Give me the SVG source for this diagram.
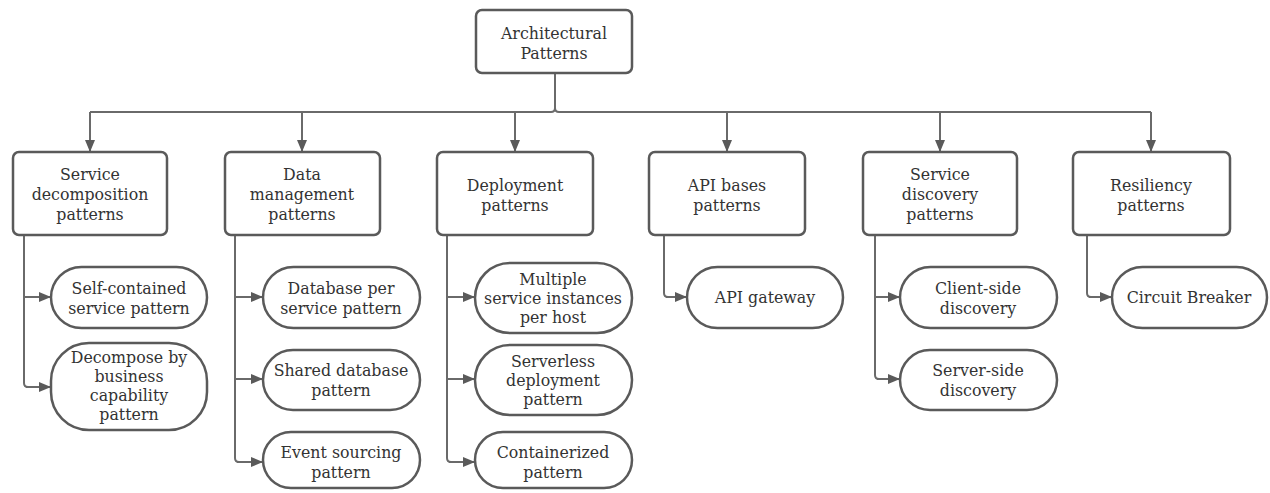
<svg xmlns="http://www.w3.org/2000/svg" width="1270" height="493" viewBox="0 0 1270 493">
<defs>
<marker id="ah" markerUnits="userSpaceOnUse" markerWidth="12" markerHeight="10" refX="11" refY="5" orient="auto">
<path d="M0,0 L12,5 L0,10 z" fill="#5a5a5a"/>
</marker>
<style>
.box{fill:#fff;stroke:#5a5a5a;stroke-width:2.5}
.st{fill:#fff;stroke:#5a5a5a;stroke-width:2.5}
.c{fill:none;stroke:#6a6a6a;stroke-width:2}
.a{fill:none;stroke:#6a6a6a;stroke-width:2;marker-end:url(#ah)}
text{font-family:"DejaVu Serif","Liberation Serif",serif;font-size:15.8px;fill:#333;text-anchor:middle}
</style>
</defs>
<rect width="1270" height="493" fill="#fff"/>
<g id="connectors">
<path class="c" d="M555,73 V108 Q555,112 551,112 H90 M555,108 Q555,112 559,112 H1151"/>
<path class="a" d="M90,112 V151"/>
<path class="a" d="M302,112 V151"/>
<path class="a" d="M515,112 V151"/>
<path class="a" d="M727,112 V151"/>
<path class="a" d="M940,112 V151"/>
<path class="a" d="M1151,112 V151"/>
<path class="c" d="M24,235 V383 Q24,387 28,387"/>
<path class="a" d="M24,297 H50"/>
<path class="a" d="M26,387 H50"/>
<path class="c" d="M235,235 V458 Q235,462 239,462"/>
<path class="a" d="M235,297 H262"/>
<path class="a" d="M235,379 H262"/>
<path class="a" d="M237,462 H262"/>
<path class="c" d="M447,235 V458 Q447,462 451,462"/>
<path class="a" d="M447,297 H474"/>
<path class="a" d="M447,379 H474"/>
<path class="a" d="M449,462 H474"/>
<path class="c" d="M664,235 V293 Q664,297 668,297"/>
<path class="a" d="M666,297 H686"/>
<path class="c" d="M875,235 V375 Q875,379 879,379"/>
<path class="a" d="M875,297 H899"/>
<path class="a" d="M877,379 H899"/>
<path class="c" d="M1087,235 V293 Q1087,297 1091,297"/>
<path class="a" d="M1089,297 H1111"/>
</g>
<g id="root"><rect class="box" x="476" y="10" width="156" height="63" rx="6"/><text x="554" y="39">Architectural</text><text x="554" y="59">Patterns</text></g>
<g id="service-decomposition"><rect class="box" x="13" y="152" width="154" height="83" rx="6"/><text x="90" y="180">Service</text><text x="90" y="200">decomposition</text><text x="90" y="220">patterns</text></g>
<g id="data-management"><rect class="box" x="225" y="152" width="155" height="83" rx="6"/><text x="302" y="180">Data</text><text x="302" y="200">management</text><text x="302" y="220">patterns</text></g>
<g id="deployment"><rect class="box" x="437" y="152" width="156" height="83" rx="6"/><text x="515" y="191">Deployment</text><text x="515" y="211">patterns</text></g>
<g id="api-bases"><rect class="box" x="649" y="152" width="156" height="83" rx="6"/><text x="727" y="191">API bases</text><text x="727" y="211">patterns</text></g>
<g id="service-discovery"><rect class="box" x="863" y="152" width="154" height="83" rx="6"/><text x="940" y="180">Service</text><text x="940" y="200">discovery</text><text x="940" y="220">patterns</text></g>
<g id="resiliency"><rect class="box" x="1073" y="152" width="157" height="83" rx="6"/><text x="1151" y="191">Resiliency</text><text x="1151" y="211">patterns</text></g>
<g id="self-contained"><rect class="st" x="51" y="267" width="156" height="61" rx="30.5"/><text x="129" y="294">Self-contained</text><text x="129" y="314">service pattern</text></g>
<g id="decompose-business"><rect class="st" x="51" y="343" width="156" height="87" rx="38"/><text x="129" y="363">Decompose by</text><text x="129" y="382">business</text><text x="129" y="401">capability</text><text x="129" y="420">pattern</text></g>
<g id="db-per-service"><rect class="st" x="263" y="267" width="157" height="61" rx="30.5"/><text x="341" y="294">Database per</text><text x="341" y="314">service pattern</text></g>
<g id="shared-db"><rect class="st" x="263" y="350" width="157" height="60" rx="30"/><text x="341" y="376">Shared database</text><text x="341" y="396">pattern</text></g>
<g id="event-sourcing"><rect class="st" x="263" y="432" width="157" height="56" rx="28"/><text x="341" y="458">Event sourcing</text><text x="341" y="478">pattern</text></g>
<g id="multiple-instances"><rect class="st" x="475" y="263" width="157" height="70" rx="35"/><text x="553" y="285">Multiple</text><text x="553" y="304">service instances</text><text x="553" y="323">per host</text></g>
<g id="serverless"><rect class="st" x="475" y="345" width="157" height="70" rx="35"/><text x="553" y="367">Serverless</text><text x="553" y="386">deployment</text><text x="553" y="405">pattern</text></g>
<g id="containerized"><rect class="st" x="475" y="432" width="157" height="56" rx="28"/><text x="553" y="458">Containerized</text><text x="553" y="478">pattern</text></g>
<g id="api-gateway"><rect class="st" x="687" y="267" width="156" height="61" rx="30.5"/><text x="765" y="303">API gateway</text></g>
<g id="client-side"><rect class="st" x="900" y="267" width="157" height="61" rx="30.5"/><text x="978" y="294">Client-side</text><text x="978" y="314">discovery</text></g>
<g id="server-side"><rect class="st" x="900" y="350" width="157" height="60" rx="30"/><text x="978" y="376">Server-side</text><text x="978" y="396">discovery</text></g>
<g id="circuit-breaker"><rect class="st" x="1112" y="267" width="155" height="61" rx="30.5"/><text x="1189" y="303">Circuit Breaker</text></g>
</svg>
